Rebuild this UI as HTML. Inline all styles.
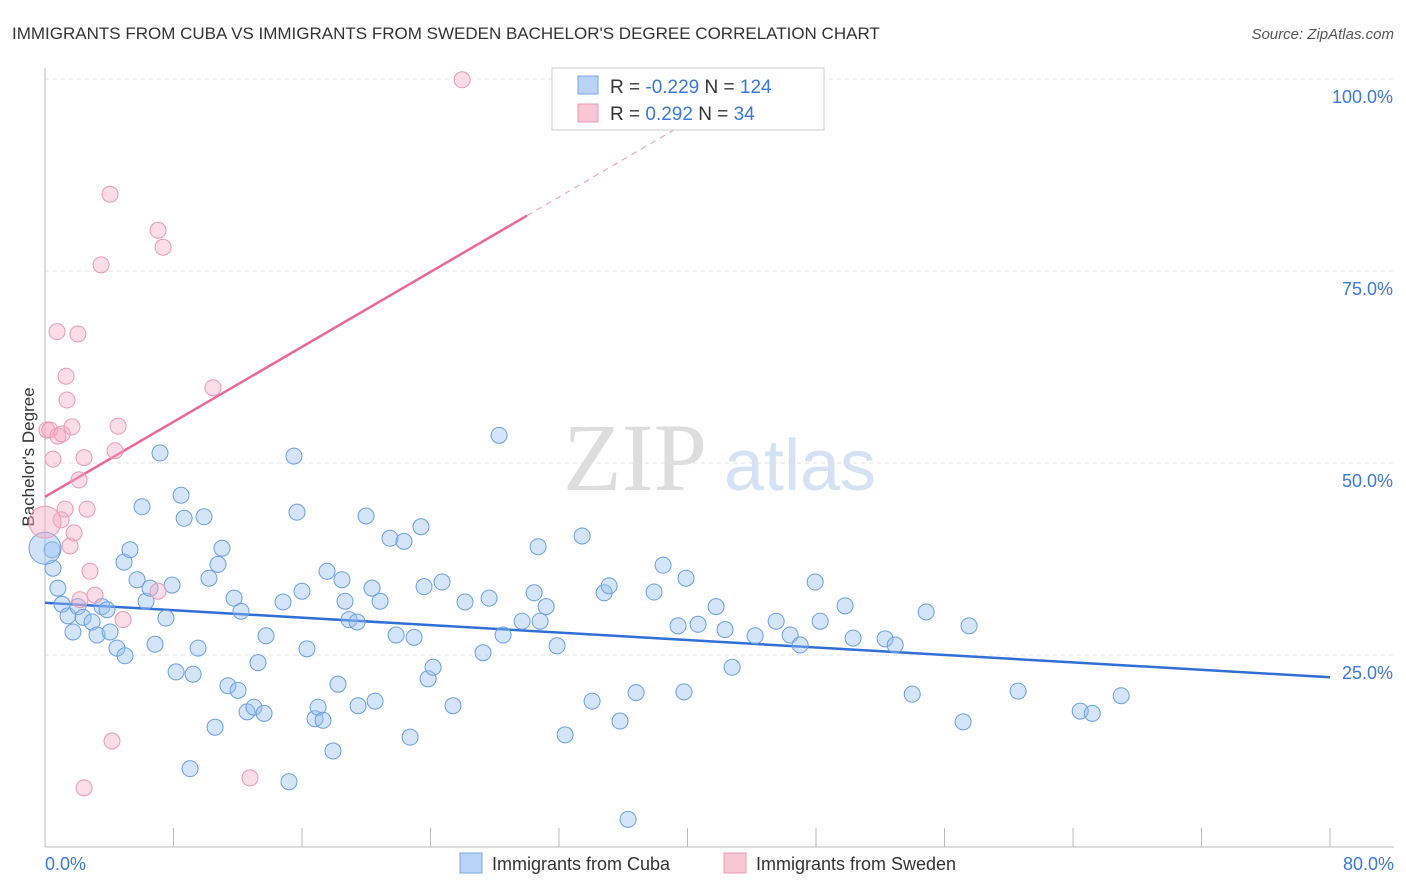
<!DOCTYPE html>
<html><head><meta charset="utf-8"><style>
body{margin:0;background:#fff;font-family:"Liberation Sans",sans-serif}
#c{position:relative;width:1406px;height:892px;overflow:hidden}
</style></head><body>
<div id="c">
<svg id="s" width="1406" height="892" xmlns="http://www.w3.org/2000/svg">
<text x="12" y="39" font-size="17" fill="#333">IMMIGRANTS FROM CUBA VS IMMIGRANTS FROM SWEDEN BACHELOR'S DEGREE CORRELATION CHART</text>
<text x="1394" y="39" font-size="15" fill="#555" font-style="italic" text-anchor="end">Source: ZipAtlas.com</text>
<text x="635" y="490" font-size="96" fill="#ddd" font-family="Liberation Serif" text-anchor="middle">ZIP</text>
<text x="800" y="490" font-size="72" fill="#d4e2f4" text-anchor="middle">atlas</text>
<text transform="translate(34,457) rotate(-90)" font-size="17" fill="#333" text-anchor="middle">Bachelor's Degree</text>
<g id="grid"></g><g id="ticks"></g><g id="lines"></g><g id="pts"></g>
<g>
<rect x="552" y="68" width="272" height="62" fill="#fff" stroke="#ccc"/>
<rect x="578" y="76" width="20" height="18" fill="#b8d3f5" stroke="#7aa8e3"/>
<rect x="578" y="104" width="20" height="18" fill="#f8c6d5" stroke="#ea9ab5"/>
<text x="610" y="93" font-size="19" fill="#333">R = <tspan fill="#3b78d8">-0.229</tspan>   N = <tspan fill="#3b78d8">124</tspan></text>
<text x="610" y="120" font-size="19" fill="#333">R =  <tspan fill="#3b78d8">0.292</tspan>   N =  <tspan fill="#3b78d8">34</tspan></text>
</g>
<g>
<rect x="460" y="853" width="22" height="20" fill="#b8d3f5" stroke="#7aa8e3"/>
<text x="492" y="870" font-size="18" fill="#333">Immigrants from Cuba</text>
<rect x="724" y="853" width="22" height="20" fill="#f8c6d5" stroke="#ea9ab5"/>
<text x="756" y="870" font-size="18" fill="#333">Immigrants from Sweden</text>
</g>
</svg></div>
<script>
const yTicks=[25,50,75,100];
const xTickLabels=["0.0%","80.0%"];
const cubaX=[0.44,0.5,0.8,1.06,1.43,1.74,2.05,2.37,2.93,3.24,3.55,3.86,4.05,4.48,4.98,4.92,5.29,5.73,6.04,6.29,6.54,6.85,7.16,7.53,7.91,8.16,8.47,8.66,9.03,9.22,9.53,9.9,10.21,10.59,10.77,11.02,11.39,11.77,12.02,12.2,12.58,13.01,13.26,13.64,13.76,14.82,15.19,15.5,15.69,16.0,16.31,16.81,17.0,17.31,17.56,17.93,18.24,18.49,18.68,18.93,19.43,19.49,19.99,20.36,20.55,20.86,21.48,21.86,22.35,22.73,22.98,23.41,23.6,23.85,24.16,24.72,25.4,26.15,27.27,27.65,28.27,28.52,29.7,30.45,30.7,30.82,31.2,31.88,32.38,33.44,34.06,34.81,35.12,35.8,36.3,36.8,37.92,38.48,39.41,39.78,39.91,40.66,41.78,42.34,42.78,44.21,45.52,46.39,47.01,47.95,48.26,49.81,50.31,52.3,52.93,53.99,54.86,57.16,57.53,60.58,64.45,65.2,67.0];
const cubaY=[38.7,36.3,33.7,31.6,30.1,28.0,31.3,29.9,29.3,27.6,31.3,30.9,28.0,25.9,24.9,37.1,38.7,34.8,44.3,32.0,33.7,26.4,51.3,29.8,34.1,22.8,45.8,42.8,10.2,22.5,25.9,43.0,35.0,15.6,36.8,38.9,21.0,32.4,20.4,30.7,17.6,18.2,24.0,17.4,27.5,31.9,8.5,50.9,43.6,33.3,25.8,16.7,18.2,16.5,35.9,12.5,21.2,34.8,32.0,29.6,29.3,18.4,43.1,33.7,19.0,32.0,40.2,27.6,39.8,14.3,27.3,41.7,33.9,21.9,23.4,34.5,18.4,31.9,25.3,32.4,53.6,27.6,29.4,33.1,39.1,29.4,31.3,26.2,14.6,40.5,19.0,33.1,34.0,16.4,3.6,20.1,33.2,36.7,28.8,20.2,35.0,29.0,31.3,28.3,23.4,27.5,29.4,27.6,26.3,34.5,29.4,31.4,27.2,27.1,26.3,19.9,30.6,16.3,28.8,20.3,17.7,17.4,19.7];
const swedenX=[0.12,0.3,0.5,0.75,0.8,1.06,1.31,1.37,1.68,1.25,1.0,1.56,1.81,2.12,2.18,2.43,2.43,2.62,2.8,3.11,3.49,4.05,4.17,4.36,4.55,4.86,7.04,7.04,7.35,10.46,12.76,25.97,2.05];
const swedenY=[54.3,54.3,50.5,67.1,53.5,53.8,61.3,58.2,54.7,44.0,42.6,39.2,40.9,47.8,32.2,50.7,7.7,44.0,35.9,32.8,75.8,85.0,13.8,51.6,54.8,29.6,80.3,33.3,78.1,59.8,9.0,99.9,66.8];
const cubaTrend=[31.8,22.1];
const swedenTrend=[45.6,1.22];
const NS="http://www.w3.org/2000/svg";
const X=v=>45+v/80*1285, Y=v=>847-v*7.68;
function mk(t,a,p){const e=document.createElementNS(NS,t);for(const k in a)e.setAttribute(k,a[k]);p.appendChild(e);return e;}
const grid=document.getElementById('grid'),ticks=document.getElementById('ticks'),lines=document.getElementById('lines'),pts=document.getElementById('pts');
yTicks.forEach(v=>{const l=mk('line',{x1:45,x2:1394,y1:Y(v),y2:Y(v),stroke:'#e2e2e2','stroke-dasharray':'4,4'},grid);


const t=mk('text',{x:1393,y:Y(v)+24,'font-size':18,fill:'#3b78d8','text-anchor':'end'},ticks);t.textContent=v.toFixed(1)+'%';

});
const ax=mk('line',{x1:45,x2:45,y1:68,y2:847,stroke:'#bbb'},grid);


const bx=mk('line',{x1:45,x2:1394,y1:847,y2:847,stroke:'#bbb'},grid);


for(let i=0;i<=10;i++){const l=mk('line',{x1:X(i*8),x2:X(i*8),y1:828,y2:847,stroke:'#bbb'},grid);

}
[[0,'start',45],[80,'end',1394]].forEach((d,i)=>{const t=mk('text',{x:d[2],y:870,'font-size':18,fill:'#3b78d8','text-anchor':d[1]},ticks);t.textContent=xTickLabels[i];

});
cubaX.forEach((x,i)=>{const c=mk('circle',{cx:X(x),cy:Y(cubaY[i]),r:8,fill:'rgba(150,190,240,0.4)',stroke:'#6b9fe0','stroke-width':1},pts);

});
swedenX.forEach((x,i)=>{const c=mk('circle',{cx:X(x),cy:Y(swedenY[i]),r:8,fill:'rgba(245,170,195,0.4)',stroke:'#e99ab5','stroke-width':1},pts);

});
const bc=mk('circle',{cx:X(0),cy:Y(38.9),r:16,fill:'rgba(150,190,240,0.45)',stroke:'#6b9fe0'},pts);


const bs=mk('circle',{cx:X(0),cy:Y(42.3),r:16,fill:'rgba(245,170,195,0.45)',stroke:'#e99ab5'},pts);


const bl=mk('line',{x1:X(0),y1:Y(cubaTrend[0]),x2:X(80),y2:Y(cubaTrend[1]),stroke:'#2f6fd6','stroke-width':2.5},lines);


const sf=x=>swedenTrend[0]+swedenTrend[1]*x;
const pl=mk('line',{x1:X(0),y1:Y(sf(0)),x2:X(30),y2:Y(sf(30)),stroke:'#e8689a','stroke-width':2.5},lines);


const pd=mk('line',{x1:X(30),y1:Y(sf(30)),x2:X(44.6),y2:Y(sf(44.6)),stroke:'#f0a8c0','stroke-width':1.2,'stroke-dasharray':'6,5'},lines);


</script>
</body></html>
